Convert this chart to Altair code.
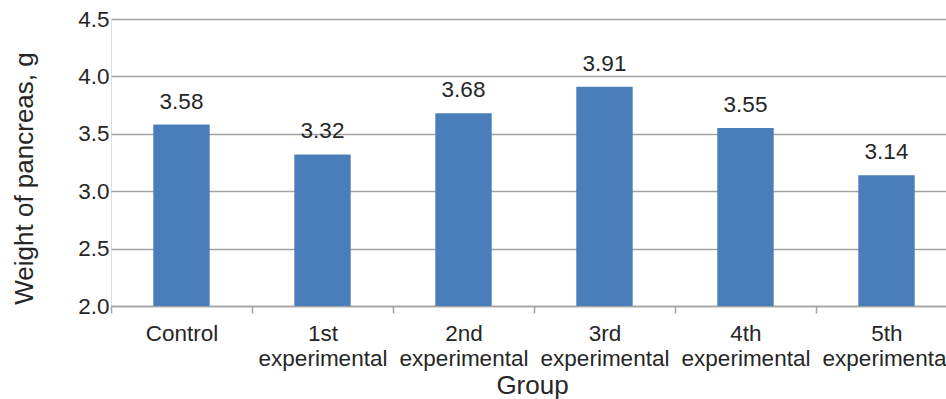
import altair as alt
import pandas as pd

groups = ["Control", "1st experimental", "2nd experimental", "3rd experimental",
          "4th experimental", "5th experimental"]
weights = [3.58, 3.32, 3.68, 3.91, 3.55, 3.14]
labels = ["3.58", "3.32", "3.68", "3.91", "3.55", "3.14"]

df = pd.DataFrame({"group": groups, "weight": weights, "label": labels})

FONT = "Liberation Sans"
TXT = "#262626"
GRID = "#a3a3a3"
LBL = 22.5
TTL = 26

x = alt.X("group:N", sort=groups, title="Group",
          scale=alt.Scale(range=[0, 846], paddingInner=0, paddingOuter=0),
          axis=alt.Axis(labelAngle=0, labelExpr="split(datum.label, ' ')",
                        labelLineHeight=25, labelBaseline="top",
                        labelFontSize=LBL, labelColor=TXT, labelFont=FONT,
                        labelPadding=9, tickSize=7, tickBand="extent",
                        tickColor=GRID, tickWidth=1.5, grid=False,
                        domainColor=GRID, domainWidth=1.5,
                        titleFontSize=TTL, titleFont=FONT, titleColor=TXT,
                        titleFontWeight="normal", titlePadding=3, titleX=421))

y = alt.Y("weight:Q", title="Weight of pancreas, g",
          scale=alt.Scale(domain=[2.0, 4.5], zero=False, nice=False),
          axis=alt.Axis(values=[2.0, 2.5, 3.0, 3.5, 4.0, 4.5], format=".1f",
                        domain=False, domainColor="transparent", ticks=False, tickSize=0,
                        labelPadding=2,
                        labelFontSize=LBL, labelColor=TXT, labelFont=FONT,
                        gridColor=GRID, gridWidth=1.5,
                        titleFontSize=TTL, titleFont=FONT, titleColor=TXT,
                        titleFontWeight="normal", titlePadding=40, titleY=159))

bars = alt.Chart(df).mark_bar(color="#4a7ebb", width=alt.RelativeBandSize(0.4)).encode(
    x=x, y=y, y2=alt.datum(2.0))

text = alt.Chart(df).mark_text(font=FONT, fontSize=LBL, color=TXT, baseline="alphabetic",
                               dy=-16).encode(x=alt.X("group:N", sort=groups),
                                              y=alt.Y("weight:Q"),
                                              text="label:N")

chart = (bars + text).properties(
    width=835, height=287,
    autosize=alt.AutoSizeParams(type="none"),
    padding={"left": 111, "top": 19, "right": 0, "bottom": 93},
).configure_view(stroke="transparent", strokeWidth=0).configure_axisY(
    domain=False, domainColor="transparent").configure_axisX(grid=False).configure(
    background="white")

chart.save("out.html", embed_options={"renderer": "svg", "actions": False})
